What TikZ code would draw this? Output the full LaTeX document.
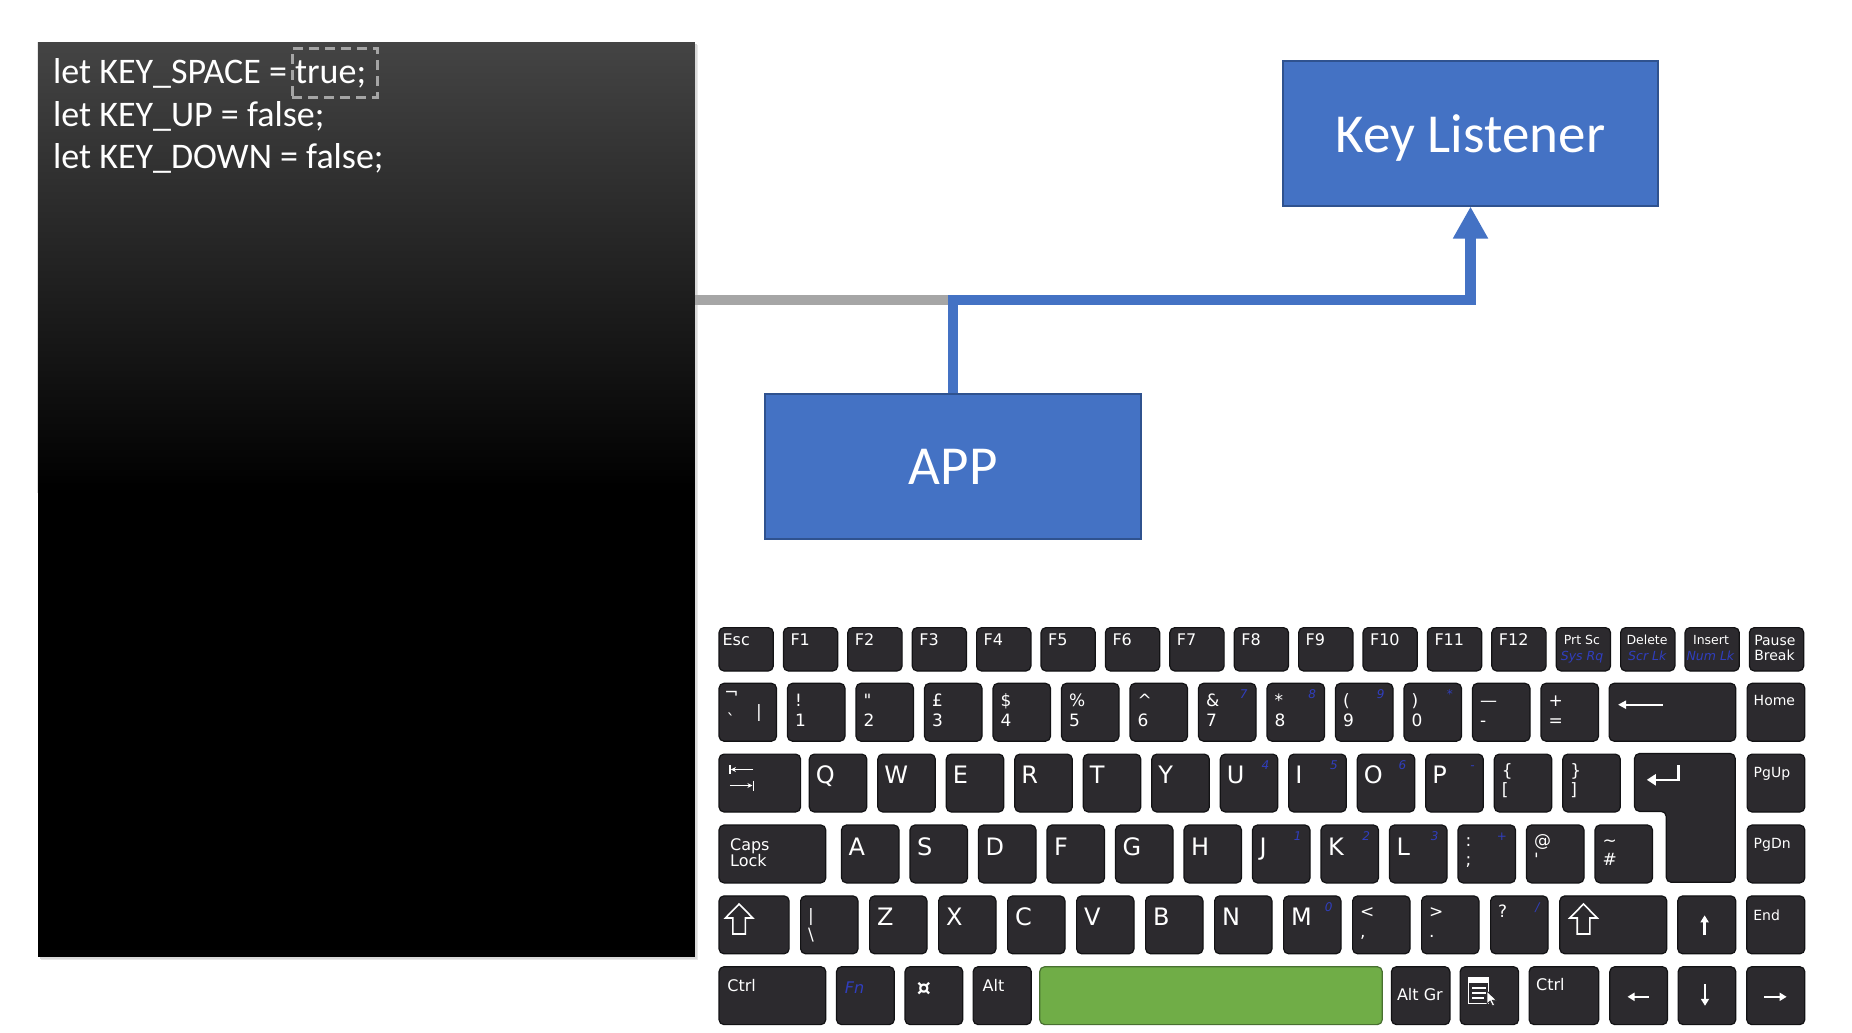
\documentclass[tikz,border=0pt]{standalone}
\usepackage{fontspec}
\setmainfont{Carlito}
\newfontfamily\kf{DejaVu Sans}
\usetikzlibrary{arrows.meta,calc}
\definecolor{boxblue}{RGB}{68,114,196}
\definecolor{boxedge}{RGB}{47,82,143}
\definecolor{keyfill}{RGB}{44,42,46}
\definecolor{keyedge}{RGB}{18,18,20}
\definecolor{fnblue}{RGB}{48,62,190}
\definecolor{spacegreen}{RGB}{112,173,71}
\definecolor{spaceedge}{RGB}{72,112,48}
\definecolor{linegray}{RGB}{166,166,166}
\definecolor{dashgray}{RGB}{165,165,165}
\definecolor{paneltop}{RGB}{68,68,68}
\begin{document}
\begin{tikzpicture}[x=1pt,y=-1pt,
 kb/.style={draw=keyedge,fill=keyfill,line width=1.2pt,rounded corners=5pt,inner sep=0pt,anchor=north west,minimum width=57.5,minimum height=57.9},
 fkey/.style={kb,minimum width=54.3,minimum height=43.4},
 kl/.style={text=white,inner sep=0pt,anchor=base west,font=\kf\fontsize{17}{17}\selectfont},
 big/.style={kl,font=\kf\fontsize{24}{24}\selectfont},
 sml/.style={kl,font=\kf\fontsize{16}{16}\selectfont},
 nav/.style={kl,font=\kf\fontsize{14}{14}\selectfont},
 tny/.style={kl,font=\kf\fontsize{12.5}{12.5}\selectfont},
 tnyb/.style={kl,text=fnblue,font=\kf\itshape\fontsize{12.5}{12.5}\selectfont},
 bl/.style={text=fnblue,inner sep=0pt,anchor=base east,font=\kf\itshape\fontsize{12}{12}\selectfont},
 sym/.style={kl,anchor=center},
 karrow/.style={white,line width=2.5pt,-{Triangle[length=7pt,width=8pt]}},
 bluebox/.style={draw=boxedge,fill=boxblue,line width=2pt,text=white,font=\fontsize{55}{55}\selectfont,minimum width=375.6,minimum height=144.1,inner sep=0pt,text depth=0pt},
 code/.style={text=white,inner sep=0pt,anchor=base west,font=\fontsize{36}{36}\selectfont},
 wire/.style={line width=10.5pt},
]
\useasboundingbox (0,0) rectangle (1852,1033);
\fill[white] (0,0) rectangle (1852,1033);

% ---------- code panel ----------
\fill[gray!18] (40.8,45.5) rectangle (698,960);
\fill[gray!30] (39.8,44.5) rectangle (696.5,958.7);
\node[fill=black,inner sep=0pt,anchor=north west,minimum width=656.7,minimum height=914.2] (panel) at (37.8,42.5) {};
\shade[top color=paneltop,bottom color=black] (panel.north west) rectangle ($(panel.north east)+(0,450)$);
\node[code] (c1) at (53,83.9) {let KEY\_SPACE = true;};
\node[code] (c2) at (53,126.4) {let KEY\_UP = false;};
\node[code] (c3) at (53,168.9) {let KEY\_DOWN = false;};
\node[draw=dashgray,line width=3pt,dash pattern=on 10pt off 6pt,inner sep=0pt,anchor=north west,minimum width=85.1,minimum height=48.5] (truebox) at (290.5,47) {};

% ---------- boxes and connectors ----------
\node[bluebox] (listener) at (1470.5,133.5) {Key Listener};
\node[bluebox] (app) at (953.2,466.5) {APP};
\coordinate (j1) at (953.2,300);
\coordinate (j2) at (1470.5,300);
\draw[wire,linegray] (panel.east |- j1) -- (j1);
\draw[wire,boxblue,line join=miter,-{Triangle[length=32pt,width=33pt]}] (app.north) -- (j1) -- (j2) -- (listener.south);

% ---------- keyboard row 0 ----------
\node[fkey] (esc) at (718.4,627) {};
\node[sml] (escl) at ([xshift=4pt,yshift=-18.5pt]esc.north west) {Esc};
\foreach \i in {1,...,12}{
  \node[fkey] (fk\i) at ({718.4+64.4*\i},627) {};
  \node[sml] (fkl\i) at ([xshift=7.5pt,yshift=-18.5pt]fk\i.north west) {F\i};
}
\node[fkey] (prt) at (1555.6,627) {};
\node[tny] (prtl) at ([xshift=8pt,yshift=-17.5pt]prt.north west) {Prt Sc};
\node[tnyb] (prtb) at ([xshift=5pt,yshift=-33pt]prt.north west) {Sys Rq};
\node[fkey] (del) at (1620,627) {};
\node[tny] (dell) at ([xshift=6.3pt,yshift=-17.5pt]del.north west) {Delete};
\node[tnyb] (delb) at ([xshift=8pt,yshift=-33pt]del.north west) {Scr Lk};
\node[fkey] (ins) at (1684.4,627) {};
\node[tny] (insl) at ([xshift=8.5pt,yshift=-17.5pt]ins.north west) {Insert};
\node[tnyb] (insb) at ([xshift=2pt,yshift=-33pt]ins.north west) {Num Lk};
\node[fkey] (pau) at (1748.8,627) {};
\node[nav] (paul) at ([xshift=5.3pt,yshift=-18.7pt]pau.north west) {Pause};
\node[nav] (paub) at ([xshift=5.3pt,yshift=-33pt]pau.north west) {Break};

% ---------- row 1 ----------
\node[kb] (n0) at (718.4,682.7) {};
\node[sym] (n0a) at ($(n0.north west)+(13,12.5)$) {¬};
\node[sym] (n0b) at ($(n0.north west)+(12.5,36.5)$) {`};
\node[sym] (n0c) at ($(n0.north west)+(40.6,30.5)$) {|};
\foreach \u/\l [count=\i] in {{!}/1,{"}/2,{£}/3,{\$}/4,{\%}/5,{\textasciicircum}/6,{\&}/7,{*}/8,{(}/9,{)}/0,{—}/-,{+}/=}{
  \node[kb] (n\i) at ({718.4+68.5*\i},682.7) {};
  \node[kl] (nu\i) at ([xshift=8pt,yshift=-24pt]n\i.north west) {\u};
  \node[kl] (nl\i) at ([xshift=8pt,yshift=-44pt]n\i.north west) {\l};
}
\node[bl] (nb7) at ([xshift=-9pt,yshift=-16pt]n7.north east) {7};
\node[bl] (nb8) at ([xshift=-9pt,yshift=-16pt]n8.north east) {8};
\node[bl] (nb9) at ([xshift=-9pt,yshift=-16pt]n9.north east) {9};
\node[bl] (nb10) at ([xshift=-9pt,yshift=-16pt]n10.north east) {*};
\node[kb,minimum width=126.7] (bsp) at (1608.5,682.7) {};
\draw[white,line width=2.2pt,-{Triangle[length=8pt,width=8pt]}] ($(bsp.north west)+(54,22)$) -- ($(bsp.north west)+(9.5,22)$);
\node[kb,minimum width=57.7] (home) at (1746.5,682.7) {};
\node[nav] (homel) at ([xshift=7pt,yshift=-22.7pt]home.north west) {Home};

% ---------- row 2 ----------
\node[kb,minimum width=81.6] (tab) at (718.4,753.5) {};
\draw[white,line width=1.3pt] ($(tab.north west)+(11.5,11.8)$) -- ($(tab.north west)+(11.5,20.2)$);
\draw[white,line width=1.3pt,-{Stealth[length=5pt,width=5pt]}] ($(tab.north west)+(35,16)$) -- ($(tab.north west)+(12.5,16)$);
\draw[white,line width=1.3pt,-{Stealth[length=5pt,width=5pt]}] ($(tab.north west)+(11.5,32)$) -- ($(tab.north west)+(34,32)$);
\draw[white,line width=1.3pt] ($(tab.north west)+(35,27)$) -- ($(tab.north west)+(35,37.5)$);
\foreach \t [count=\j from 0] in {Q,W,E,R,T,Y,U,I,O,P}{
  \node[kb] (q\j) at ({808.7+68.5*\j},753.5) {};
  \node[big] (ql\j) at ([xshift=7pt,yshift=-30pt]q\j.north west) {\t};
}
\node[kb] (q10) at (1493.7,753.5) {};
\node[kl] (qu10) at ([xshift=8pt,yshift=-23pt]q10.north west) {\{};
\node[kl] (qd10) at ([xshift=8pt,yshift=-42pt]q10.north west) {[};
\node[kb] (q11) at (1562.2,753.5) {};
\node[kl] (qu11) at ([xshift=8pt,yshift=-23pt]q11.north west) {\}};
\node[kl] (qd11) at ([xshift=8pt,yshift=-42pt]q11.north west) {]};
\node[bl] (qb6) at ([xshift=-9pt,yshift=-16pt]q6.north east) {4};
\node[bl] (qb7) at ([xshift=-9pt,yshift=-16pt]q7.north east) {5};
\node[bl] (qb8) at ([xshift=-9pt,yshift=-16pt]q8.north east) {6};
\node[bl] (qb9) at ([xshift=-9pt,yshift=-16pt]q9.north east) {-};
\coordinate (ent) at (1634.5,753.5);
\draw[draw=keyedge,fill=keyfill,line width=1.2pt,rounded corners=5pt] (ent) -- ++(100.7,0) -- ++(0,128.8) -- ++(-69,0) -- ++(0,-70.9) -- ++(-31.7,0) -- cycle;
\draw[white,line width=2.5pt,-{Triangle[length=9pt,width=11pt]}] ($(ent)+(44,11.8)$) -- ($(ent)+(44,26.3)$) -- ($(ent)+(12.3,26.3)$);
\node[kb,minimum width=57.7] (pgup) at (1746.5,753.5) {};
\node[nav] (pgupl) at ([xshift=7pt,yshift=-24pt]pgup.north west) {PgUp};

% ---------- row 3 ----------
\node[kb,minimum width=106.8] (caps) at (718.4,824.4) {};
\node[sml] (capsl1) at ([xshift=11.5pt,yshift=-26pt]caps.north west) {Caps};
\node[sml] (capsl2) at ([xshift=11.5pt,yshift=-42pt]caps.north west) {Lock};
\foreach \t [count=\j from 0] in {A,S,D,F,G,H,J,K,L}{
  \node[kb] (a\j) at ({840.9+68.5*\j},824.4) {};
  \node[big] (al\j) at ([xshift=7.5pt,yshift=-31pt]a\j.north west) {\t};
}
\foreach \u/\l [count=\j from 9] in {{:}/;,{@}/',{\textasciitilde}/\#}{
  \node[kb] (a\j) at ({840.9+68.5*\j},824.4) {};
  \node[kl] (au\j) at ([xshift=8pt,yshift=-22pt]a\j.north west) {\u};
  \node[kl] (ad\j) at ([xshift=8pt,yshift=-41pt]a\j.north west) {\l};
}
\node[bl] (ab6) at ([xshift=-9pt,yshift=-16pt]a6.north east) {1};
\node[bl] (ab7) at ([xshift=-9pt,yshift=-16pt]a7.north east) {2};
\node[bl] (ab8) at ([xshift=-9pt,yshift=-16pt]a8.north east) {3};
\node[bl] (ab9) at ([xshift=-9pt,yshift=-16pt]a9.north east) {+};
\node[kb,minimum width=57.7] (pgdn) at (1746.5,824.4) {};
\node[nav] (pgdnl) at ([xshift=7pt,yshift=-24pt]pgdn.north west) {PgDn};

% ---------- row 4 ----------
\node[kb,minimum width=70.1] (lsh) at (718.4,895.3) {};
\draw[white,line width=1.6pt,line join=miter] ($(lsh.north west)+(20.7,8.7)$) -- ++(13.7,14) -- ++(-7.4,0) -- ++(0,16) -- ++(-12.6,0) -- ++(0,-16) -- ++(-7.4,0) -- cycle;
\node[kb,minimum width=57.4] (z0) at (800,895.3) {};
\node[kl] (zu0) at ([xshift=8pt,yshift=-26pt]z0.north west) {|};
\node[kl] (zd0) at ([xshift=8pt,yshift=-45pt]z0.north west) {\textbackslash};
\foreach \t [count=\j] in {Z,X,C,V,B,N,M}{
  \node[kb,minimum width=57.4] (z\j) at ({800+69*\j},895.3) {};
  \node[big] (zl\j) at ([xshift=8pt,yshift=-30pt]z\j.north west) {\t};
}
\foreach \u/\l [count=\j from 8] in {{<}/{,},{>}/.,{?}//}{
  \node[kb,minimum width=57.4] (z\j) at ({800+69*\j},895.3) {};
  \node[kl] (zu\j) at ([xshift=8pt,yshift=-22pt]z\j.north west) {\u};
  \node[kl] (zd\j) at ([xshift=8pt,yshift=-42pt]z\j.north west) {\l};
}
\node[bl] (zb7) at ([xshift=-9pt,yshift=-16pt]z7.north east) {0};
\node[bl] (zb10) at ([xshift=-9pt,yshift=-16pt]z10.north east) {/};
\node[kb,minimum width=107] (rsh) at (1559.2,895.3) {};
\draw[white,line width=1.6pt,line join=miter] ($(rsh.north west)+(24.3,8.7)$) -- ++(13.7,14) -- ++(-7.4,0) -- ++(0,16) -- ++(-12.6,0) -- ++(0,-16) -- ++(-7.4,0) -- cycle;
\node[kb,minimum width=58.1] (up) at (1677.1,895.3) {};
\draw[karrow] ($(up.north west)+(27.5,39.7)$) -- ($(up.north west)+(27.5,20)$);
\node[kb,minimum width=58.1] (end) at (1746.1,895.3) {};
\node[nav] (endl) at ([xshift=7pt,yshift=-25pt]end.north west) {End};

% ---------- row 5 ----------
\node[kb,minimum width=106.8] (lctrl) at (718.4,966.1) {};
\node[sml] (lctrll) at ([xshift=8.8pt,yshift=-25pt]lctrl.north west) {Ctrl};
\node[kb,minimum width=57.8] (fn) at (835.9,966.1) {};
\node[kl,text=fnblue,font=\kf\itshape\fontsize{16}{16}\selectfont] (fnl) at ([xshift=8.8pt,yshift=-27pt]fn.north west) {Fn};
\node[kb,minimum width=57.8] (win) at (904.4,966.1) {};
\node[sym,font=\kf\bfseries\fontsize{22}{22}\selectfont] (winl) at ($(win.north west)+(19.5,22.4)$) {¤};
\node[kb,minimum width=58.2] (alt) at (972.5,966.1) {};
\node[sml] (altl) at ([xshift=10pt,yshift=-25pt]alt.north west) {Alt};
\node[kb,draw=spaceedge,fill=spacegreen,minimum width=342.6] (space) at (1039.1,966.1) {};
\node[kb,minimum width=58.5] (altgr) at (1390.8,966.1) {};
\node[sml] (altgrl) at ([xshift=6pt,yshift=-34pt]altgr.north west) {Alt Gr};
\node[kb,minimum width=58.5] (menu) at (1459.5,966.1) {};
\draw[white,line width=1.3pt] ($(menu.north west)+(9,11.5)$) rectangle ($(menu.north west)+(29,37.5)$);
\fill[white] ($(menu.north west)+(9,11.5)$) rectangle ($(menu.north west)+(29,17)$);
\fill[white] ($(menu.north west)+(12,20.5)$) rectangle ($(menu.north west)+(26,22.5)$);
\fill[white] ($(menu.north west)+(12,25.5)$) rectangle ($(menu.north west)+(26,27.5)$);
\fill[white] ($(menu.north west)+(12,30.5)$) rectangle ($(menu.north west)+(24,32.5)$);
\draw[fill=white,draw=keyfill,line width=0.8pt] ($(menu.north west)+(27.5,25)$) -- ++(0,13) -- ++(3,-3) -- ++(2.5,5) -- ++(2.2,-1) -- ++(-2.4,-4.8) -- ++(4.2,0) -- cycle;
\node[kb,minimum width=69.7] (rctrl) at (1528.5,966.1) {};
\node[sml] (rctrll) at ([xshift=7.4pt,yshift=-24.7pt]rctrl.north west) {Ctrl};
\node[kb,minimum width=57.7] (left) at (1609.2,966.1) {};
\draw[karrow] ($(left.north west)+(39.4,30.7)$) -- ($(left.north west)+(18.3,30.7)$);
\node[kb,minimum width=57.7] (down) at (1677.5,966.1) {};
\draw[karrow] ($(down.north west)+(27.5,18)$) -- ($(down.north west)+(27.5,39.7)$);
\node[kb,minimum width=58.1] (right) at (1746.1,966.1) {};
\draw[karrow] ($(right.north west)+(18,30.7)$) -- ($(right.north west)+(40.5,30.7)$);
\end{tikzpicture}
\end{document}
